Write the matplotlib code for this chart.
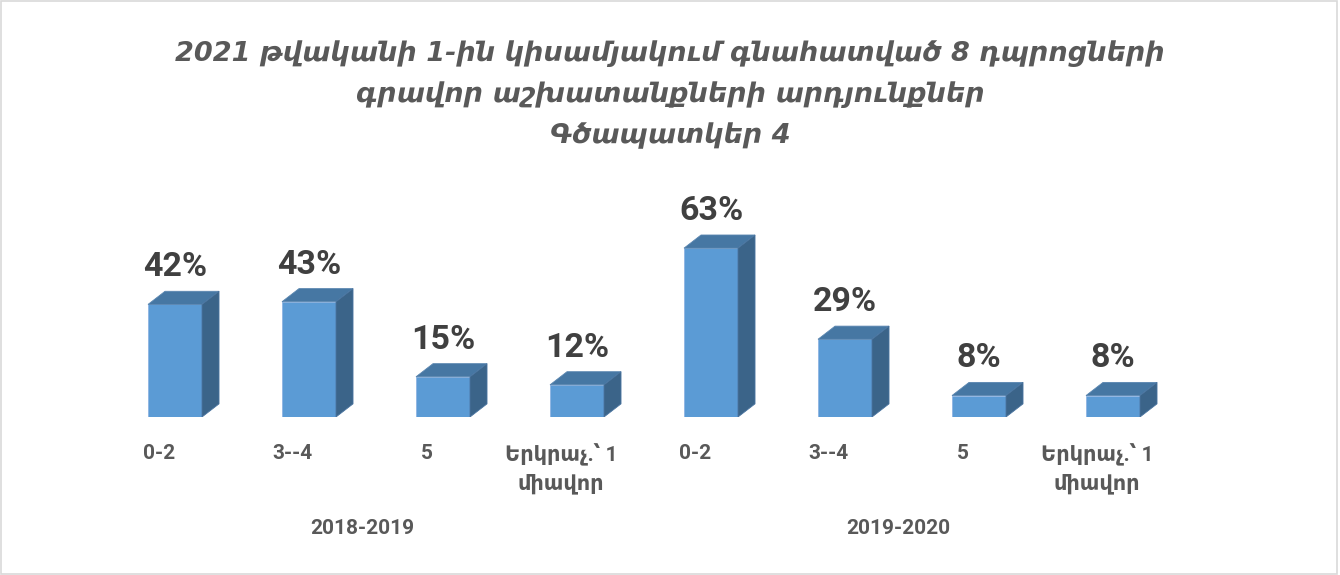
import numpy as np
import matplotlib.pyplot as plt
from matplotlib.patches import Polygon, Rectangle

# data
categories = ["0-2", "3--4", "5", "Երկրաչ.՝ 1\nմիավոր",
              "0-2", "3--4", "5", "Երկրաչ.՝ 1\nմիավոր"]
values = [42, 43, 15, 12, 63, 29, 8, 8]
groups = ["2018-2019", "2019-2020"]
title = ("2021 թվականի 1-ին կիսամյակում գնահատված 8 դպրոցների\n"
         "գրավոր աշխատանքների արդյունքներ\n"
         "Գծապատկեր 4")

fonts = ["Roboto", "DejaVu Sans"]
front_c = "#5B9BD5"
top_c = "#4677A3"
side_c = "#3B6489"

fig = plt.figure(figsize=(13.4, 5.75), dpi=100)
fig.patches.append(Rectangle((0.001, 0.002), 0.997, 0.996, transform=fig.transFigure,
                             fill=False, edgecolor="#D9D9D9", linewidth=1.2))

ax = fig.add_axes([0.0806, 0.2748, 0.80, 0.3263])
ax.set_xlim(-0.5, 7.5)
ax.set_ylim(0, 70)
ax.axis("off")

w = 0.403      # front face width (category units)
dx = 0.127     # depth offset x
dy = 4.9       # depth offset y (percent units)

for i, v in enumerate(values):
    x0, x1 = i - w / 2, i + w / 2
    ax.add_patch(Polygon([(x0, 0), (x1, 0), (x1, v), (x0, v)],
                         facecolor=front_c, edgecolor="#8DB4E2", linewidth=0.6))
    ax.add_patch(Polygon([(x0, v), (x1, v), (x1 + dx, v + dy), (x0 + dx, v + dy)],
                         facecolor=top_c, edgecolor="#5A86B0", linewidth=0.6))
    ax.add_patch(Polygon([(x1, 0), (x1 + dx, dy), (x1 + dx, v + dy), (x1, v)],
                         facecolor=side_c, edgecolor="#4A74A0", linewidth=0.6))
    ax.text(i, v + dy + 3.0, f"{v}%", ha="center", va="bottom",
            fontsize=24.5, fontweight="bold", color="#404040", family=fonts)
    ax.text(i - 0.12, -10, categories[i], ha="center", va="top",
            fontsize=15, fontweight="bold", color="#595959", family=fonts,
            linespacing=1.45)

for g, name in enumerate(groups):
    ax.text(g * 4 + 1.4, -38, name, ha="center", va="top",
            fontsize=15, fontweight="bold", color="#595959", family=fonts)

fig.text(0.5, 0.93, title, ha="center", va="top", fontsize=19.5,
         fontweight="bold", fontstyle="italic", color="#595959",
         family=["DejaVu Sans"], linespacing=1.7)

fig.savefig("out.png", dpi=100)
